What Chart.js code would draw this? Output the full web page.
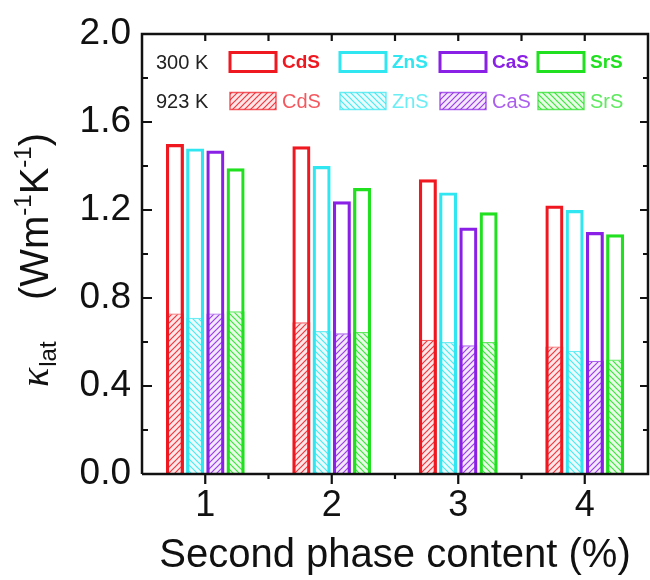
<!DOCTYPE html>
<html>
<head>
<meta charset="utf-8">
<script src="https://cdn.jsdelivr.net/npm/chart.js@4.4.1/dist/chart.umd.min.js"></script>
<style>
  html, body { margin: 0; padding: 0; background: #fff; }
  #wrap { width: 650px; height: 580px; }
</style>
</head>
<body>
<div id="wrap"><canvas id="kchart" width="650" height="580"></canvas></div>
<script>
// values
const categories = ["1", "2", "3", "4"];
const materials = ["CdS", "ZnS", "CaS", "SrS"];
const temps = ["300 K", "923 K"];

const k300 = {
  CdS: [1.50, 1.49, 1.34, 1.22],
  ZnS: [1.48, 1.40, 1.28, 1.20],
  CaS: [1.47, 1.24, 1.12, 1.10],
  SrS: [1.39, 1.30, 1.19, 1.09],
};
const k923 = {
  CdS: [0.73, 0.69, 0.61, 0.58],
  ZnS: [0.71, 0.65, 0.60, 0.56],
  CaS: [0.73, 0.64, 0.585, 0.515],
  SrS: [0.74, 0.645, 0.60, 0.52],
};

const yTicks = [0, 0.4, 0.8, 1.2, 1.6, 2.0];

const colors = ["#f01820", "#30e6f0", "#8a20e6", "#20e020"];
const rgb = [[240, 24, 32], [48, 230, 240], [138, 32, 230], [32, 224, 32]];
const hatchDir = ["/", "\\", "/", "\\"];

const FONT = '"Liberation Sans", Arial, sans-serif';

function rgba(c, a) {
  return "rgba(" + c[0] + "," + c[1] + "," + c[2] + "," + a + ")";
}

function makeHatch(c, dir) {
  const s = 6;
  const p = document.createElement("canvas");
  p.width = s;
  p.height = s;
  const g = p.getContext("2d");
  g.fillStyle = rgba(c, 0.1);
  g.fillRect(0, 0, s, s);
  g.strokeStyle = rgba(c, 0.85);
  g.lineWidth = 1.2;
  g.beginPath();
  if (dir === "/") {
    g.moveTo(-1, s + 1); g.lineTo(s + 1, -1);
    g.moveTo(-1, 1); g.lineTo(1, -1);
    g.moveTo(s - 1, s + 1); g.lineTo(s + 1, s - 1);
  } else {
    g.moveTo(-1, -1); g.lineTo(s + 1, s + 1);
    g.moveTo(s - 1, -1); g.lineTo(s + 1, 1);
    g.moveTo(-1, s - 1); g.lineTo(1, s + 1);
  }
  g.stroke();
  return g.createPattern(p, "repeat");
}

const hatches = materials.map((m, i) => makeHatch(rgb[i], hatchDir[i]));

// same stack name per material -> 300 K and 923 K bars share one slot (y not stacked)
const datasets = [];
materials.forEach((m, i) => {
  datasets.push({
    label: m + " 300 K",
    data: k300[m],
    stack: m,
    backgroundColor: "rgba(0,0,0,0)",
    borderColor: colors[i],
    borderWidth: 3.2,
  });
});
materials.forEach((m, i) => {
  datasets.push({
    label: m + " 923 K",
    data: k923[m],
    stack: m,
    backgroundColor: hatches[i],
    borderColor: rgba(rgb[i], 0.7),
    borderWidth: 1.2,
  });
});

// frame, inward/outward ticks, legend and the y title
const decorPlugin = {
  id: "decor",
  afterDraw(chart) {
    const ctx = chart.ctx;
    const a = chart.chartArea;
    const xs = chart.scales.x;
    const ys = chart.scales.y;
    ctx.save();
    ctx.strokeStyle = "#111";
    ctx.lineWidth = 2.5;
    ctx.beginPath();
    ctx.moveTo(a.left, a.bottom);
    ctx.lineTo(a.left, a.top);
    ctx.lineTo(a.right, a.top);
    ctx.lineTo(a.right, a.bottom);
    ctx.lineTo(a.left, a.bottom);
    ctx.stroke();

    ctx.lineWidth = 2.2;
    ctx.beginPath();
    for (let v = 0.2; v < 2.0; v += 0.2) {
      const y = ys.getPixelForValue(v);
      const major = Math.round(v * 10) % 4 === 0;
      const len = major ? 10 : 6;
      ctx.moveTo(a.left, y); ctx.lineTo(a.left + len, y);
      ctx.moveTo(a.right, y); ctx.lineTo(a.right - (major ? 8 : 5), y);
    }
    const step = xs.getPixelForValue(1) - xs.getPixelForValue(0);
    categories.forEach((c, i) => {
      const x = xs.getPixelForValue(i);
      ctx.moveTo(x, a.bottom); ctx.lineTo(x, a.bottom + 10);
      ctx.moveTo(x, a.top); ctx.lineTo(x, a.top + 7);
      if (i < categories.length - 1) {
        const xm = x + step / 2;
        ctx.moveTo(xm, a.bottom); ctx.lineTo(xm, a.bottom + 5);
        ctx.moveTo(xm, a.top); ctx.lineTo(xm, a.top + 7);
      }
    });
    ctx.stroke();

    // legend, two rows
    const rows = [62, 101];
    const boxX = [230, 340, 440, 538];
    ctx.textBaseline = "middle";
    temps.forEach((t, r) => {
      const y = rows[r];
      ctx.fillStyle = "#222";
      ctx.font = "20px " + FONT;
      ctx.textAlign = "left";
      ctx.fillText(t, 156, y + 1);
      materials.forEach((m, i) => {
        const bx = boxX[i];
        const bw = 46, bh = r === 0 ? 19 : 17;
        if (r === 0) {
          ctx.fillStyle = "#fff";
          ctx.fillRect(bx, y - bh / 2, bw, bh);
          ctx.strokeStyle = colors[i];
          ctx.lineWidth = 3;
          ctx.strokeRect(bx, y - bh / 2, bw, bh);
          ctx.fillStyle = colors[i];
          ctx.font = "bold 19px " + FONT;
        } else {
          ctx.fillStyle = hatches[i];
          ctx.fillRect(bx, y - bh / 2, bw, bh);
          ctx.strokeStyle = rgba(rgb[i], 0.7);
          ctx.lineWidth = 1.5;
          ctx.strokeRect(bx, y - bh / 2, bw, bh);
          ctx.fillStyle = rgba(rgb[i], 0.72);
          ctx.font = "20px " + FONT;
        }
        ctx.fillText(m, bx + 52, y + 1);
      });
    });

    // y title: kappa_lat (Wm^-1 K^-1)
    ctx.fillStyle = "#111";
    ctx.textAlign = "left";
    ctx.textBaseline = "alphabetic";
    ctx.translate(48, 387);
    ctx.rotate(-Math.PI / 2);
    const big = "40px " + FONT;
    const small = "24px " + FONT;
    const parts = [
      ["(", big, 0], ["Wm", big, 0], ["-1", small, -17],
      ["K", big, 0], ["-1", small, -17], [")", big, 0],
    ];
    ctx.font = "italic 40px \"Liberation Serif\", serif";
    ctx.fillText("\u03ba", 0, 0);
    let px = ctx.measureText("\u03ba").width + 1;
    ctx.font = small;
    ctx.fillText("lat", px, 8);
    let total = 0;
    parts.forEach((p) => { ctx.font = p[1]; total += ctx.measureText(p[0]).width; });
    px = 254 - total;
    parts.forEach((p) => {
      ctx.font = p[1];
      ctx.fillText(p[0], px, p[2]);
      px += ctx.measureText(p[0]).width;
    });
    ctx.restore();
  },
};

new Chart(document.getElementById("kchart"), {
  type: "bar",
  data: { labels: categories, datasets: datasets },
  plugins: [decorPlugin],
  options: {
    responsive: false,
    animation: false,
    layout: { padding: { top: 34, right: 2, left: 0, bottom: 0 } },
    datasets: {
      bar: { categoryPercentage: 0.64, barPercentage: 0.89 },
    },
    scales: {
      x: {
        type: "category",
        offset: true,
        grid: { display: false, drawTicks: false },
        border: { display: false },
        ticks: { color: "#111", font: { family: FONT, size: 36 }, padding: 10 },
        title: {
          display: true,
          text: "Second phase content (%)",
          color: "#111",
          font: { family: FONT, size: 40 },
          padding: { top: 0, bottom: 0 },
        },
        afterFit(s) { s.height = 106; },
      },
      y: {
        min: 0,
        max: 2.0,
        stacked: false,
        afterBuildTicks(s) { s.ticks = yTicks.map((v) => ({ value: v })); },
        grid: { display: false, drawTicks: false },
        border: { display: false },
        ticks: {
          color: "#111",
          font: { family: FONT, size: 37 },
          padding: 11,
          callback: (v) => Number(v).toFixed(1),
        },
        afterFit(s) { s.width = 142; },
      },
    },
    plugins: {
      legend: { display: false },
      tooltip: { enabled: false },
    },
  },
});
</script>
</body>
</html>
